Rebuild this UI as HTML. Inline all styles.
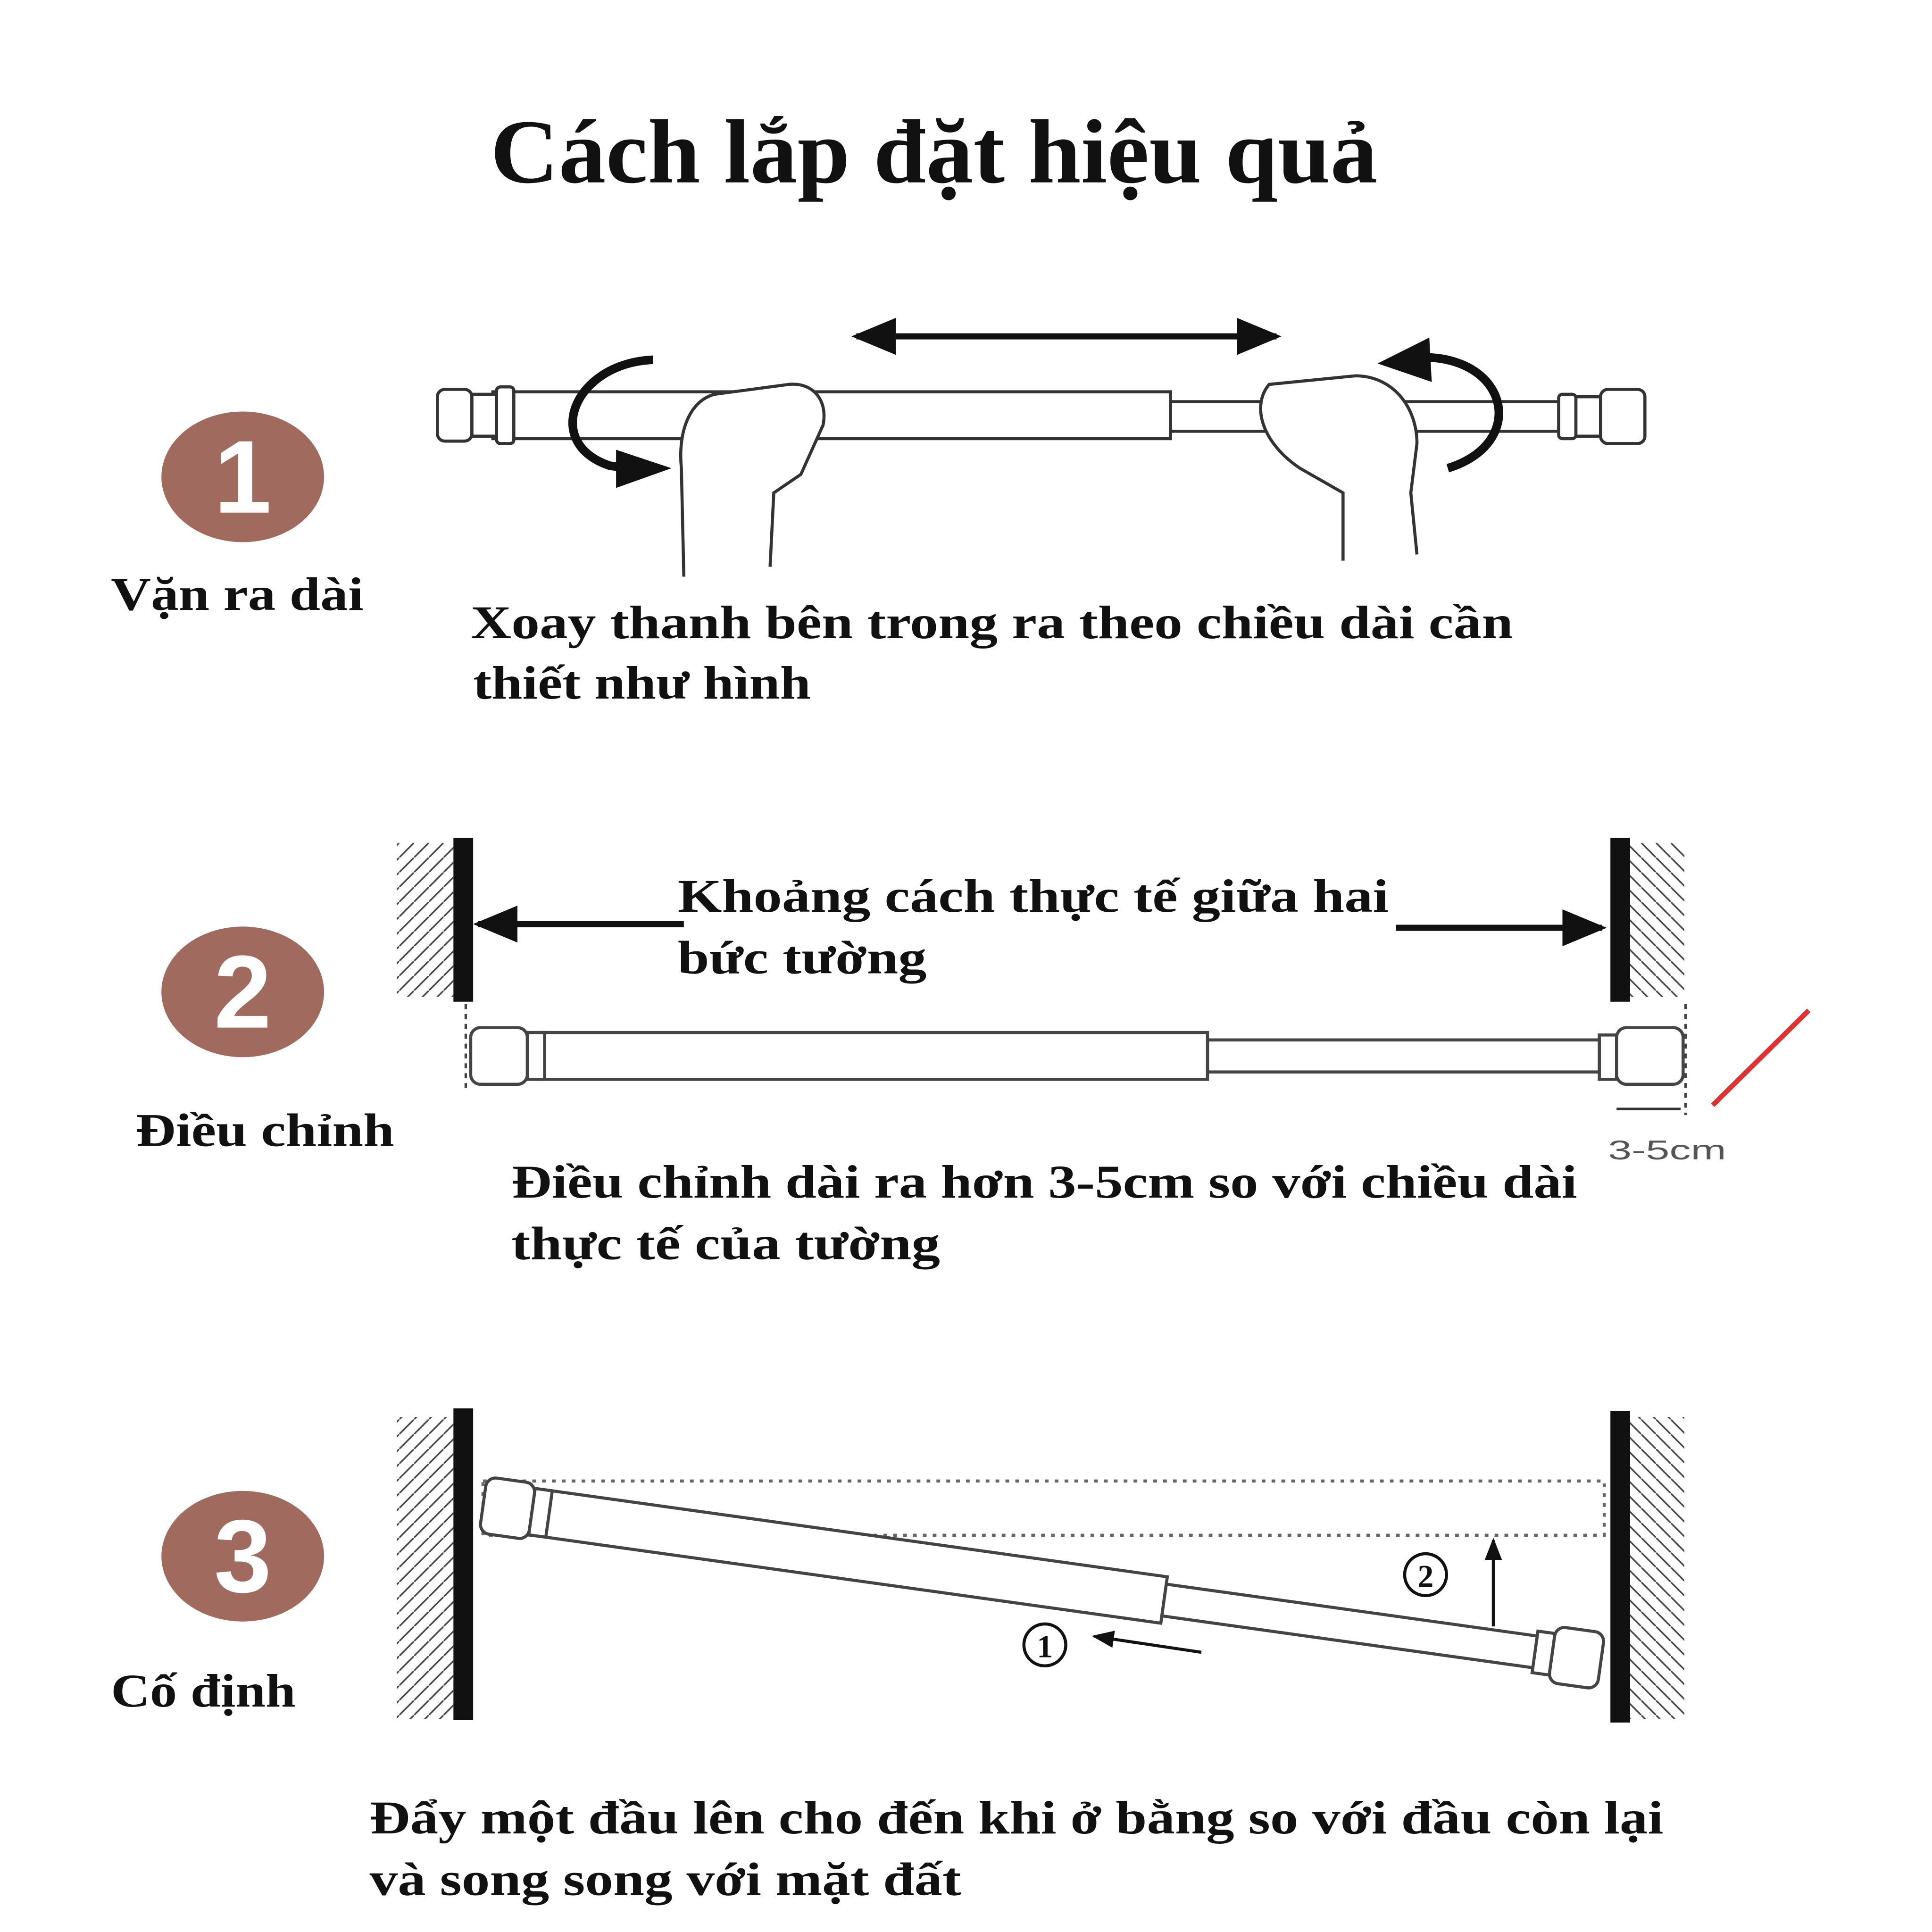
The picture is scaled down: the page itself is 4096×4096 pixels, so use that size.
<!DOCTYPE html>
<html><head><meta charset="utf-8"><style>
html,body{margin:0;padding:0;background:#fff;}
svg{display:block;}
text{font-family:"Liberation Serif",serif;font-weight:bold;fill:#111;}
</style></head><body>
<svg width="4096" height="4096" viewBox="0 0 1568 1568" xmlns="http://www.w3.org/2000/svg">
<defs>
<marker id="ah" markerWidth="36" markerHeight="30" refX="32" refY="15" orient="auto-start-reverse" markerUnits="userSpaceOnUse"><path d="M0,0 L36,15 L0,30 z" fill="#111"/></marker>
<marker id="as" markerWidth="18" markerHeight="14" refX="16" refY="7" orient="auto" markerUnits="userSpaceOnUse"><path d="M0,0 L18,7 L0,14 z" fill="#111"/></marker>
<pattern id="hatchL" width="12" height="12" patternUnits="userSpaceOnUse"><path d="M-2,14 L14,-2" stroke="#444" stroke-width="1.3"/></pattern>
<pattern id="hatchR" width="12" height="12" patternUnits="userSpaceOnUse"><path d="M-2,-2 L14,14" stroke="#444" stroke-width="1.3"/></pattern>
</defs>
<rect width="1568" height="1568" fill="#fff"/>
<text x="398" y="148" font-size="74" textLength="720" lengthAdjust="spacingAndGlyphs">Cách lắp đặt hiệu quả</text>

<ellipse cx="197" cy="387" rx="66" ry="53" fill="#a06a5f"/>
<text x="197" y="416" font-size="84" text-anchor="middle" style="fill:#fff;font-family:'Liberation Sans',sans-serif">1</text>
<ellipse cx="197" cy="805" rx="66" ry="53" fill="#a06a5f"/>
<text x="197" y="834" font-size="84" text-anchor="middle" style="fill:#fff;font-family:'Liberation Sans',sans-serif">2</text>
<ellipse cx="197" cy="1263" rx="66" ry="53" fill="#a06a5f"/>
<text x="197" y="1292" font-size="84" text-anchor="middle" style="fill:#fff;font-family:'Liberation Sans',sans-serif">3</text>

<text x="90" y="495" font-size="38" textLength="205" lengthAdjust="spacingAndGlyphs">Vặn ra dài</text>
<text x="110" y="930" font-size="38" textLength="210" lengthAdjust="spacingAndGlyphs">Điều chỉnh</text>
<text x="90" y="1385" font-size="38" textLength="150" lengthAdjust="spacingAndGlyphs">Cố định</text>

<text x="382" y="518" font-size="38" textLength="846" lengthAdjust="spacingAndGlyphs">Xoay thanh bên trong ra theo chiều dài cần</text>
<text x="384" y="567" font-size="38" textLength="274" lengthAdjust="spacingAndGlyphs">thiết như hình</text>
<text x="550" y="740" font-size="38" textLength="577" lengthAdjust="spacingAndGlyphs">Khoảng cách thực tế giữa hai</text>
<text x="550" y="790" font-size="38" textLength="202" lengthAdjust="spacingAndGlyphs">bức tường</text>
<text x="415" y="972" font-size="38" textLength="865" lengthAdjust="spacingAndGlyphs">Điều chỉnh dài ra hơn 3-5cm so với chiều dài</text>
<text x="415" y="1022" font-size="38" textLength="348" lengthAdjust="spacingAndGlyphs">thực tế của tường</text>
<text x="300" y="1488" font-size="38" textLength="1050" lengthAdjust="spacingAndGlyphs">Đẩy một đầu lên cho đến khi ở bằng so với đầu còn lại</text>
<text x="300" y="1538" font-size="38" textLength="480" lengthAdjust="spacingAndGlyphs">và song song với mặt đất</text>

<line x1="695" y1="273" x2="1036" y2="273" stroke="#111" stroke-width="5" marker-end="url(#ah)" marker-start="url(#ah)"/>
<g fill="#fff" stroke="#333" stroke-width="2.5">
<rect x="950" y="326" width="320" height="24" />
<rect x="400" y="318" width="550" height="38" />
<rect x="355" y="316" width="28" height="42" rx="6"/>
<rect x="383" y="320" width="20" height="34"/>
<rect x="403" y="314" width="14" height="46" rx="3"/>
<rect x="1265" y="320" width="14" height="36" rx="3"/>
<rect x="1279" y="322" width="20" height="32"/>
<rect x="1299" y="316" width="36" height="44" rx="6"/>
<path d="M555,468 L553,380 C550,350 560,325 580,320 L640,312 C660,310 672,325 668,345 L650,385 L628,400 L625,460" />
<path d="M1090,455 L1090,400 L1055,380 C1025,360 1015,330 1030,312 L1100,305 C1130,305 1150,330 1150,360 L1145,400 L1150,450"/>
</g>
<path d="M530,292 C465,295 440,360 495,378 L510,380" fill="none" stroke="#111" stroke-width="7"/>
<path d="M500,365 L545,380 L500,396 z" fill="#111"/>
<path d="M1155,290 C1225,290 1240,360 1175,380" fill="none" stroke="#111" stroke-width="7"/>
<path d="M1160,274 L1118,295 L1162,310 z" fill="#111"/>

<rect x="368" y="680" width="16" height="133" fill="#111"/>
<rect x="322" y="684" width="46" height="125" fill="url(#hatchL)"/>
<rect x="1307" y="680" width="16" height="133" fill="#111"/>
<rect x="1323" y="684" width="44" height="125" fill="url(#hatchR)"/>
<line x1="555" y1="750" x2="388" y2="750" stroke="#111" stroke-width="5" marker-end="url(#ah)"/>
<line x1="1133" y1="753" x2="1300" y2="753" stroke="#111" stroke-width="5" marker-end="url(#ah)"/>
<g fill="#fff" stroke="#444" stroke-width="2.5">
<rect x="980" y="844" width="320" height="26"/>
<rect x="440" y="838" width="540" height="38"/>
<rect x="382" y="834" width="46" height="46" rx="8"/>
<rect x="428" y="838" width="14" height="38"/>
<rect x="1298" y="840" width="14" height="36"/>
<rect x="1312" y="834" width="54" height="46" rx="8"/>
</g>
<line x1="378" y1="815" x2="378" y2="885" stroke="#444" stroke-width="2" stroke-dasharray="4,4"/>
<line x1="1368" y1="815" x2="1368" y2="905" stroke="#444" stroke-width="2" stroke-dasharray="4,4"/>
<line x1="1312" y1="900" x2="1364" y2="900" stroke="#333" stroke-width="2"/>
<text x="1305" y="941" font-size="22" textLength="96" lengthAdjust="spacingAndGlyphs" style="font-family:'Liberation Sans',sans-serif;font-weight:normal;fill:#555">3-5cm</text>
<line x1="1390" y1="897" x2="1468" y2="820" stroke="#d33" stroke-width="4"/>

<rect x="368" y="1143" width="16" height="253" fill="#111"/>
<rect x="322" y="1150" width="46" height="245" fill="url(#hatchL)"/>
<rect x="1307" y="1145" width="16" height="253" fill="#111"/>
<rect x="1323" y="1150" width="44" height="245" fill="url(#hatchR)"/>
<rect x="392" y="1202" width="910" height="44" fill="none" stroke="#666" stroke-width="2.5" stroke-dasharray="3,5"/>
<g transform="rotate(7.96 390 1222)" fill="#fff" stroke="#444" stroke-width="2.5">
<rect x="440" y="1202" width="510" height="38"/>
<rect x="950" y="1208" width="305" height="26"/>
<rect x="392" y="1198" width="40" height="46" rx="8"/>
<rect x="432" y="1202" width="14" height="38"/>
<rect x="1254" y="1204" width="14" height="34"/>
<rect x="1268" y="1198" width="40" height="46" rx="8"/>
</g>
<circle cx="848" cy="1335" r="17" fill="none" stroke="#111" stroke-width="2.5"/>
<text x="848" y="1345" font-size="26" text-anchor="middle">1</text>
<line x1="975" y1="1341" x2="888" y2="1328" stroke="#111" stroke-width="2.5" marker-end="url(#as)"/>
<circle cx="1157" cy="1278" r="17" fill="none" stroke="#111" stroke-width="2.5"/>
<text x="1157" y="1288" font-size="26" text-anchor="middle">2</text>
<line x1="1212" y1="1320" x2="1212" y2="1250" stroke="#111" stroke-width="2.5" marker-end="url(#as)"/>
</svg>
</body></html>
